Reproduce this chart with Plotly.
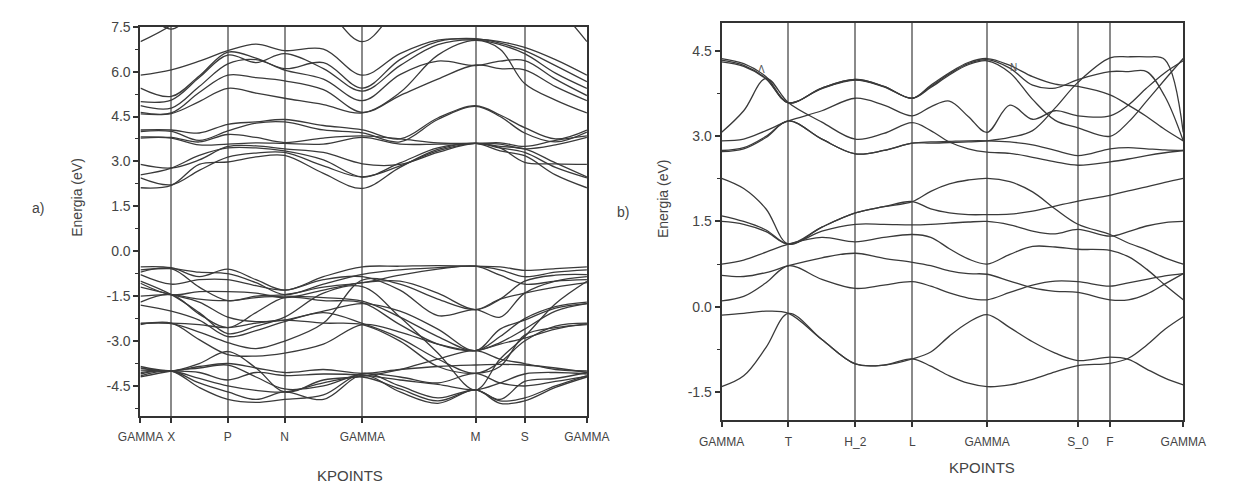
import plotly.graph_objects as go

W, H = 1238, 489

# ---------------- Panel a) ----------------
KA = [0.0, 0.32, 0.61, 0.907, 1.20, 1.497, 1.90, 2.305, 2.695, 3.088, 3.48, 3.735, 3.99, 4.31, 4.637]
KA_TICKS = [0.0, 0.32, 0.907, 1.497, 2.305, 3.48, 3.99, 4.637]
KA_LABELS = ["GAMMA", "X", "P", "N", "GAMMA", "M", "S", "GAMMA"]
YA_TICKS = [-4.5, -3.0, -1.5, 0.0, 1.5, 3.0, 4.5, 6.0, 7.5]
YA_LABELS = ["-4.5", "-3.0", "-1.5", "0.0", "1.5", "3.0", "4.5", "6.0", "7.5"]
YA_MINOR = [-5.25, -3.75, -2.25, -0.75, 0.75, 2.25, 3.75, 5.25, 6.75]

A_ARC1 = [7.00, 7.55, 8.30, 9.00, 9.00, 9.00, 8.20, 7.00, 8.20, 9.00, 9.00, 9.00, 9.00, 8.20, 7.00]
A_ARC2 = [8.20, 7.42, 8.20, 9.00, 9.00, 9.00, 9.00, 9.00, 9.00, 9.00, 9.00, 9.00, 9.00, 9.00, 9.00]
A_C1 = [5.88, 6.06, 6.35, 6.70, 6.92, 6.70, 6.75, 5.88, 6.60, 7.05, 7.08, 7.00, 6.81, 6.40, 5.88]
A_C2 = [5.45, 5.17, 5.85, 6.65, 6.45, 6.10, 6.30, 5.45, 6.40, 7.00, 7.10, 6.95, 6.70, 6.20, 5.66]
A_C3 = [5.00, 5.05, 5.80, 6.55, 6.30, 6.60, 6.10, 5.35, 6.20, 6.90, 7.06, 6.90, 6.60, 5.95, 5.44]
A_C4 = [4.86, 4.78, 5.50, 6.26, 6.40, 6.05, 5.75, 5.03, 5.90, 6.35, 6.20, 6.35, 6.37, 5.75, 5.20]
A_C5 = [4.64, 4.62, 5.30, 5.88, 5.80, 5.69, 5.40, 4.64, 5.20, 5.75, 6.22, 6.10, 6.06, 5.50, 5.03]
A_C6 = [4.59, 4.60, 5.00, 5.44, 5.28, 5.11, 4.90, 4.62, 5.30, 6.55, 7.04, 6.75, 5.60, 5.05, 4.62]
A_D1 = [4.05, 4.05, 3.95, 4.24, 4.32, 4.40, 4.20, 4.05, 3.75, 4.45, 4.86, 4.55, 4.13, 3.75, 4.05]
A_D2 = [4.00, 4.00, 3.70, 4.02, 4.28, 4.32, 4.05, 3.95, 3.65, 4.40, 4.84, 4.50, 3.95, 3.65, 3.98]
A_D3 = [3.82, 3.80, 3.65, 3.90, 3.80, 3.63, 3.78, 3.85, 3.75, 3.62, 3.60, 3.62, 3.50, 3.70, 3.85]
A_D4 = [3.78, 3.78, 3.55, 3.58, 3.62, 3.60, 3.58, 3.80, 3.58, 3.58, 3.60, 3.58, 3.42, 3.55, 3.80]
A_D5 = [2.90, 2.78, 3.05, 3.50, 3.52, 3.42, 3.30, 2.92, 2.90, 3.30, 3.60, 3.45, 2.97, 2.92, 2.90]
A_D6 = [2.55, 2.78, 3.20, 3.45, 3.45, 3.35, 3.05, 2.48, 2.95, 3.45, 3.60, 3.50, 3.42, 2.95, 2.48]
A_D7 = [2.45, 2.22, 2.70, 3.14, 3.28, 3.30, 2.85, 2.48, 2.85, 3.35, 3.60, 3.45, 3.30, 2.80, 2.45]
A_D8 = [2.12, 2.20, 2.90, 2.98, 3.15, 3.20, 2.60, 2.10, 2.80, 3.40, 3.60, 3.35, 3.19, 2.55, 2.12]
A_V1 = [-0.52, -0.55, -0.85, -0.60, -0.95, -1.30, -0.85, -0.52, -0.50, -0.48, -0.50, -0.52, -0.64, -0.58, -0.52]
A_V2 = [-0.62, -0.58, -0.70, -0.75, -1.05, -1.45, -1.10, -0.77, -0.62, -0.55, -0.50, -0.62, -0.85, -0.70, -0.62]
A_V3 = [-0.78, -1.10, -0.95, -0.95, -1.15, -1.30, -0.95, -0.85, -1.30, -2.15, -1.95, -2.20, -1.40, -1.00, -0.85]
A_V4 = [-1.00, -1.45, -2.05, -2.75, -2.50, -2.20, -1.40, -1.18, -2.20, -3.40, -4.63, -3.60, -2.85, -1.75, -1.00]
A_V5 = [-1.07, -1.45, -1.35, -1.35, -1.40, -1.55, -1.30, -1.05, -1.00, -1.40, -1.95, -1.60, -1.00, -0.80, -0.78]
A_V6 = [-1.50, -1.45, -1.60, -1.65, -1.55, -1.50, -1.55, -1.67, -2.20, -2.85, -3.32, -2.85, -2.25, -1.85, -1.70]
A_V7 = [-1.70, -1.45, -2.10, -2.55, -2.05, -1.55, -1.65, -1.72, -2.45, -3.10, -3.32, -3.05, -2.60, -2.00, -1.75]
A_V8 = [-1.80, -2.00, -2.30, -2.85, -2.65, -2.35, -2.05, -2.41, -2.90, -3.60, -4.08, -3.70, -3.00, -2.50, -2.40]
A_V9 = [-2.40, -2.40, -2.45, -2.55, -2.40, -2.30, -2.40, -2.45, -3.00, -3.85, -4.08, -3.85, -2.80, -2.55, -2.45]
A_V10 = [-2.42, -2.42, -2.70, -3.05, -3.25, -3.00, -2.40, -0.96, -1.10, -1.60, -1.95, -1.60, -1.40, -1.20, -1.05]
A_V11 = [-3.85, -4.00, -3.85, -3.75, -3.90, -4.05, -3.95, -4.08, -3.95, -3.85, -3.80, -3.78, -3.80, -3.90, -4.05]
A_V12 = [-3.97, -4.00, -4.05, -4.30, -4.05, -4.15, -4.10, -4.14, -4.30, -4.45, -4.63, -4.40, -4.10, -4.05, -4.10]
A_V13 = [-4.05, -4.00, -4.25, -4.50, -4.65, -4.70, -4.40, -4.20, -4.60, -5.00, -4.63, -5.00, -4.90, -4.50, -4.15]
A_V14 = [-4.16, -4.00, -4.40, -4.70, -4.95, -4.70, -4.95, -4.14, -4.70, -5.08, -4.63, -5.08, -5.00, -4.55, -4.20]
A_V15 = [-4.10, -4.00, -4.55, -4.95, -5.05, -4.95, -4.80, -4.08, -4.50, -4.90, -4.63, -4.95, -4.35, -4.25, -4.05]
A_V16 = [-3.90, -4.00, -3.75, -3.35, -3.90, -4.70, -4.30, -4.18, -3.95, -3.60, -3.32, -3.60, -3.75, -3.95, -4.00]
A_V17 = [-1.20, -1.45, -1.70, -2.20, -2.35, -2.30, -2.00, -1.75, -2.00, -2.60, -3.32, -2.60, -2.30, -1.90, -1.75]
A_V18 = [-2.45, -2.40, -2.95, -3.45, -3.50, -3.40, -3.10, -2.45, -2.70, -3.10, -3.32, -3.10, -2.90, -2.60, -2.42]
A_V19 = [-0.70, -0.58, -1.20, -1.65, -1.50, -1.45, -1.20, -1.05, -0.80, -0.60, -0.50, -0.80, -1.10, -1.00, -0.95]
A_V20 = [-4.20, -4.00, -3.90, -3.80, -4.20, -4.60, -4.50, -4.10, -4.20, -4.40, -4.08, -4.40, -4.50, -4.35, -4.18]

BANDS_A = [A_ARC1, A_ARC2, A_C1, A_C2, A_C3, A_C4, A_C5, A_C6,
           A_D1, A_D2, A_D3, A_D4, A_D5, A_D6, A_D7, A_D8,
           A_V1, A_V2, A_V3, A_V4, A_V5, A_V6, A_V7, A_V8, A_V9, A_V10,
           A_V11, A_V12, A_V13, A_V14, A_V15, A_V16, A_V17, A_V18, A_V19, A_V20]

# ---------------- Panel b) ----------------
KB = [0.0, 0.229, 0.461, 0.694, 1.041, 1.388, 1.684, 1.979, 2.171, 2.364, 2.560,
      2.756, 2.992, 3.228, 3.463, 3.699, 4.032, 4.222, 4.412, 4.602, 4.792]
KB_TICKS = [0.0, 0.694, 1.388, 1.979, 2.756, 3.699, 4.032, 4.792]
KB_LABELS = ["GAMMA", "T", "H_2", "L", "GAMMA", "S_0", "F", "GAMMA"]
YB_TICKS = [-1.5, 0.0, 1.5, 3.0, 4.5]
YB_LABELS = ["-1.5", "0.0", "1.5", "3.0", "4.5"]
YB_MINOR = [-0.75, 0.75, 2.25, 3.75]

B_A = [-1.41, -1.22, -0.72, -0.12, -0.58, -1.01, -1.03, -0.92, -1.05, -1.22, -1.35, -1.41, -1.38, -1.28, -1.15, -1.04, -1.00, -0.91, -0.68, -0.40, -0.18]
B_B = [-0.15, -0.12, -0.08, -0.12, -0.58, -1.01, -1.03, -0.92, -0.80, -0.52, -0.28, -0.14, -0.37, -0.62, -0.82, -0.95, -0.89, -0.93, -1.10, -1.26, -1.38]
B_C = [0.10, 0.18, 0.42, 0.72, 0.48, 0.32, 0.38, 0.44, 0.36, 0.24, 0.15, 0.12, 0.25, 0.38, 0.45, 0.44, 0.36, 0.42, 0.48, 0.54, 0.58]
B_D = [0.55, 0.53, 0.60, 0.72, 0.86, 0.94, 0.85, 0.78, 0.72, 0.63, 0.58, 0.57, 0.45, 0.33, 0.27, 0.25, 0.12, 0.12, 0.22, 0.40, 0.58]
B_E = [0.75, 0.82, 0.96, 1.10, 1.22, 1.14, 1.22, 1.27, 1.22, 1.02, 0.84, 0.75, 0.92, 1.06, 1.05, 1.01, 0.99, 0.88, 0.66, 0.38, 0.12]
B_F = [1.50, 1.45, 1.32, 1.10, 1.33, 1.45, 1.45, 1.44, 1.45, 1.47, 1.49, 1.50, 1.44, 1.33, 1.28, 1.36, 1.24, 1.32, 1.42, 1.48, 1.50]
B_G = [1.60, 1.50, 1.35, 1.10, 1.40, 1.65, 1.76, 1.85, 1.72, 1.65, 1.62, 1.62, 1.63, 1.68, 1.77, 1.86, 1.96, 2.04, 2.11, 2.19, 2.26]
B_H = [2.26, 2.08, 1.72, 1.10, 1.40, 1.65, 1.76, 1.85, 2.03, 2.16, 2.23, 2.26, 2.20, 2.02, 1.72, 1.45, 1.27, 1.12, 1.00, 0.86, 0.75]
B_U1 = [4.37, 4.28, 4.05, 3.59, 3.85, 4.00, 3.88, 3.67, 3.90, 4.12, 4.30, 4.37, 4.25, 4.05, 3.92, 3.88, 3.73, 3.55, 3.35, 3.12, 2.92]
B_U2 = [4.34, 4.25, 4.02, 3.59, 3.85, 4.00, 3.88, 3.67, 3.86, 4.08, 4.26, 4.33, 4.12, 3.65, 3.28, 3.15, 3.00, 3.25, 3.62, 4.00, 4.37]
B_U3 = [3.07, 3.45, 4.02, 3.59, 3.25, 2.95, 3.05, 3.24, 3.10, 2.90, 2.78, 2.72, 2.70, 2.63, 2.55, 2.49, 2.55, 2.60, 2.66, 2.71, 2.75]
B_U4 = [2.92, 2.95, 3.10, 3.27, 3.45, 3.67, 3.55, 3.36, 3.52, 3.62, 3.35, 3.07, 3.55, 3.30, 3.45, 3.36, 3.36, 3.55, 3.85, 4.12, 4.33]
B_U5 = [2.75, 2.80, 3.00, 3.27, 2.95, 2.69, 2.75, 2.88, 2.88, 2.89, 2.90, 2.92, 2.98, 3.10, 3.50, 3.95, 4.38, 4.40, 4.40, 4.35, 3.07]
B_U6 = [4.31, 4.23, 4.01, 3.59, 3.84, 3.99, 3.87, 3.67, 3.88, 4.10, 4.28, 4.35, 4.20, 3.90, 3.85, 4.00, 4.14, 4.14, 4.14, 3.70, 2.92]
B_U7 = [2.73, 2.78, 2.98, 3.27, 2.95, 2.69, 2.75, 2.88, 2.90, 2.91, 2.92, 2.92, 2.90, 2.85, 2.75, 2.66, 2.78, 2.80, 2.78, 2.76, 2.75]

BANDS_B = [B_A, B_B, B_C, B_D, B_E, B_F, B_G, B_H,
           B_U1, B_U2, B_U3, B_U4, B_U5, B_U6, B_U7]

LINE_COLOR = "#3a3a3a"
FONT = "Liberation Sans, Arial, sans-serif"

fig = go.Figure()
for band in BANDS_A:
    fig.add_trace(go.Scatter(x=KA, y=band, mode="lines", xaxis="x", yaxis="y",
                             line=dict(color=LINE_COLOR, width=1.3, shape="spline", smoothing=1.0),
                             showlegend=False, hoverinfo="skip"))
for band in BANDS_B:
    fig.add_trace(go.Scatter(x=KB, y=band, mode="lines", xaxis="x2", yaxis="y2",
                             line=dict(color=LINE_COLOR, width=1.3, shape="spline", smoothing=1.0),
                             showlegend=False, hoverinfo="skip"))

def xaxis_cfg(domain, rng, tv, tt, anchor):
    return dict(domain=domain, range=rng, tickmode="array", tickvals=tv, ticktext=tt,
                ticks="outside", ticklen=5, tickwidth=1.5, tickcolor="#333",
                ticklabelstandoff=4,
                showgrid=True, gridcolor="#8a8a8a", gridwidth=1.6,
                showline=True, mirror=True, linecolor="#333", linewidth=2,
                zeroline=False, anchor=anchor,
                tickfont=dict(family=FONT, size=12, color="#444"))

def yaxis_cfg(domain, rng, tv, tt, minor, anchor):
    return dict(domain=domain, range=rng, tickmode="array", tickvals=tv, ticktext=tt,
                ticks="outside", ticklen=5, tickwidth=1.5, tickcolor="#333",
                minor=dict(tickmode="array", tickvals=minor, ticks="outside", ticklen=3,
                           tickwidth=1.2, tickcolor="#333", showgrid=False),
                showgrid=False, showline=True, mirror=True, linecolor="#333", linewidth=2,
                zeroline=False, anchor=anchor,
                tickfont=dict(family=FONT, size=14, color="#444"))

fig.update_layout(
    width=W, height=H, margin=dict(l=0, r=0, t=0, b=0),
    paper_bgcolor="white", plot_bgcolor="white",
    xaxis=xaxis_cfg([122 / W, 585.7 / W], [0, KA_TICKS[-1]], KA_TICKS, KA_LABELS, "y"),
    yaxis=yaxis_cfg([(H - 414.7) / H, (H - 19) / H], [-5.5, 7.5], YA_TICKS, YA_LABELS, YA_MINOR, "x"),
    xaxis2=xaxis_cfg([725.6 / W, 1205 / W], [0, KB_TICKS[-1]], KB_TICKS, KB_LABELS, "y2"),
    yaxis2=yaxis_cfg([(H - 419) / H, (H - 15) / H], [-2.0, 5.0], YB_TICKS, YB_LABELS, YB_MINOR, "x2"),
)

def ann(text, px, py, size, angle=0, color="#444"):
    fig.add_annotation(text=text, x=px / W, y=1 - py / H, xref="paper", yref="paper",
                       showarrow=False, textangle=angle, xanchor="center", yanchor="middle",
                       font=dict(family=FONT, size=size, color=color))

ann("Energia (eV)", 56, 192, 14, -90)
ann("KPOINTS", 340, 475, 15)
ann("a)", 16, 203, 14)
ann("Energia (eV)", 665, 194, 14, -90)
ann("KPOINTS", 996, 467, 15)
ann("b)", 623, 207, 14)
ann("Λ", 767, 63, 10, 0, "#555")
ann("N", 1029, 60, 10, 0, "#555")

fig.write_html("out.html")
